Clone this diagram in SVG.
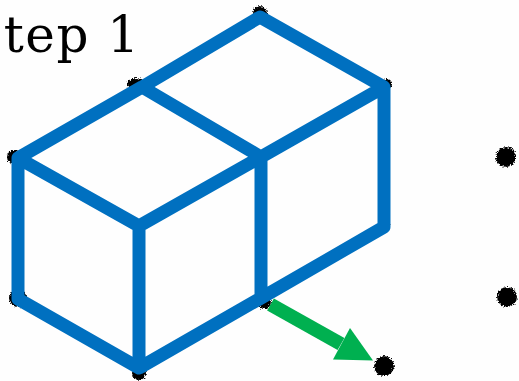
<svg xmlns="http://www.w3.org/2000/svg" width="519" height="381" viewBox="0 0 519 381">
<defs>
<filter id="rough" x="-5%" y="-5%" width="110%" height="110%">
<feTurbulence type="fractalNoise" baseFrequency="0.7" numOctaves="2" seed="4"/>
<feDisplacementMap in="SourceGraphic" scale="5" xChannelSelector="R" yChannelSelector="G"/>
</filter>
</defs>
<style>
.e{stroke:#0070c0;stroke-width:13;fill:none;stroke-linecap:butt;stroke-linejoin:round}
.d{fill:#000}
.t{font-family:"DejaVu Serif",serif;font-size:50px;letter-spacing:1.500px;fill:#000}
</style>
<rect width="519" height="381" fill="#fefefe"/>
<text id="title" class="t" x="-32" y="52">Step 1</text>
<g id="vertices" filter="url(#rough)">
<circle class="d" cx="14" cy="157" r="7"/>
<ellipse class="d" cx="136" cy="84" rx="9" ry="6"/>
<circle class="d" cx="260" cy="13" r="7"/>
<circle class="d" cx="387" cy="84" r="5"/>
<circle class="d" cx="140" cy="226" r="5"/>
<circle class="d" cx="261" cy="157" r="5"/>
<circle class="d" cx="384" cy="223" r="6"/>
<circle class="d" cx="18" cy="298" r="9"/>
<circle class="d" cx="264" cy="302" r="7"/>
<circle class="d" cx="139" cy="373" r="7"/>
<circle class="d" cx="384" cy="366" r="10"/>
<circle class="d" cx="506" cy="157" r="10"/>
<circle class="d" cx="507" cy="297" r="10"/>
</g>
<g id="connectors">
<path class="e" d="M18 158L142 87L261 157L139 226ZM142 87L260 17L384 87L261 157M18 158V299L139 368V226M139 368L261 298V157M261 298L384 227V87"/>
<path d="M270.500 304.500L341 344" stroke="#00b050" stroke-width="14" fill="none"/>
<polygon points="373,360.500 333,359.500 350,328" fill="#00b050"/>
</g>
</svg>
